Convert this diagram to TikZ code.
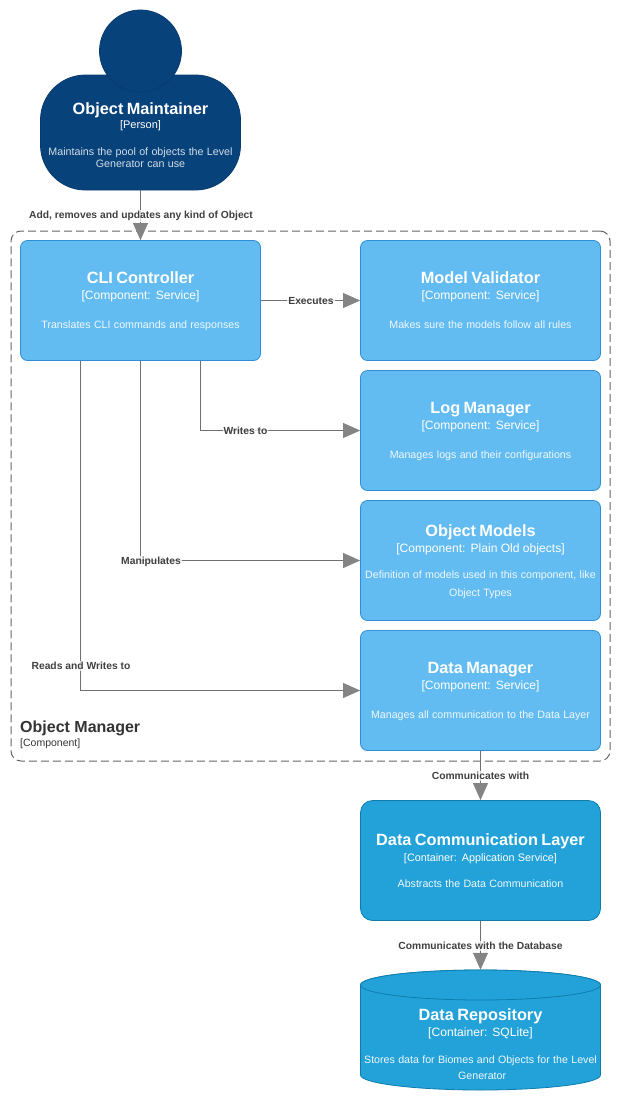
\documentclass[tikz,border=0pt]{standalone}
\usepackage{fontspec}
\setmainfont{Liberation Sans}
\usetikzlibrary{arrows.meta,calc}
\definecolor{personfill}{HTML}{08427B}
\definecolor{persondraw}{HTML}{073B6F}
\definecolor{compfill}{HTML}{63BCF1}
\definecolor{compdraw}{HTML}{2E8FD6}
\definecolor{contfill}{HTML}{23A2D9}
\definecolor{contdraw}{HTML}{0E7DAD}
\definecolor{edgecol}{HTML}{707070}
\definecolor{tipcol}{HTML}{848484}
\definecolor{labelcol}{HTML}{404040}
\definecolor{desccol}{HTML}{F0F8FD}
\newcommand{\lstrut}[2]{\rule[-#2pt]{0pt}{\dimexpr#1pt+#2pt\relax}}
\newcommand{\nl}[1][12.5]{\\\lstrut{#1}{4}}
% optional: baseline gap from subtitle to description minus 4
\newcommand{\boxtext}[4][24]{\offinterlineskip
  {\fontsize{16.3}{17}\selectfont\bfseries\lstrut{15}{4}#2}\\
  {\fontsize{12.1}{15}\selectfont\lstrut{12.5}{4}#3}\\
  {\fontsize{10.65}{15}\selectfont\color{desccol}\lstrut{#1}{4}#4}}
\tikzset{
  x=1pt,y=-1pt,
  compbox/.style={draw=compdraw,fill=compfill,line width=0.8pt,rounded corners=7pt,minimum width=240pt,minimum height=120pt,inner sep=0pt,text=white,align=center,text width=238pt},
  contbox/.style={compbox,draw=contdraw,fill=contfill,rounded corners=12pt},
  rel/.style={draw=edgecol,line width=0.7pt,-{Triangle[width=15pt,length=17pt,color=tipcol]}},
  rellabel/.style={fill=white,fill opacity=0.75,text opacity=1,text=labelcol,inner sep=1pt,font=\bfseries\fontsize{10.3}{12}\selectfont},
}
\begin{document}
\begin{tikzpicture}
\useasboundingbox (0,0) rectangle (621,1101);
% boundary
\node[draw=edgecol!90!black,dash pattern=on 8pt off 4pt,line width=1pt,rounded corners=10pt,minimum width=599pt,minimum height=530pt,inner sep=0pt] (boundary) at (310.5,496) {};
\node[anchor=west,text=black!80,inner sep=0pt,font=\bfseries\fontsize{16}{18}\selectfont] (blabel) at (20,728.5) {Object Manager};
\node[anchor=west,text=black!80,inner sep=0pt,font=\fontsize{10.5}{12}\selectfont] (bsub) at (20,744) {[Component]};
% person
\node[draw=persondraw,fill=personfill,line width=0.8pt,rounded corners=45pt,minimum width=200pt,minimum height=115pt,inner sep=0pt] (body) at (140.5,132.5) {};
\node[draw=persondraw,fill=personfill,line width=0.8pt,circle,minimum size=82pt,inner sep=0pt] (head) at (140.5,51) {};
\node[text=white,align=center,inner sep=0pt,text width=198pt] (ptext) at (140.5,135) {\offinterlineskip
  {\fontsize{16.3}{17}\selectfont\bfseries\lstrut{15}{4}Object Maintainer}\\
  {\fontsize{11}{13}\selectfont\lstrut{10}{4}[Person]}\\
  {\fontsize{10.7}{15}\selectfont\color{white!82!personfill}\lstrut{23}{4}Maintains the pool of objects the Level\\\lstrut{8}{4}Generator can use}};
% components
\node[compbox] (cli) at (140.5,300.5) {\boxtext{CLI Controller}{[Component: Service]}{Translates CLI commands and responses}};
\node[compbox] (validator) at (480.5,300.5) {\boxtext{Model Validator}{[Component: Service]}{Makes sure the models follow all rules}};
\node[compbox] (log) at (480.5,430.5) {\boxtext{Log Manager}{[Component: Service]}{Manages logs and their configurations}};
\node[compbox] (models) at (480.5,560.5) {\boxtext[22]{Object Models}{[Component: Plain Old objects]}{Definition of models used in this component, like\nl Object Types}};
\node[compbox] (data) at (480.5,690.5) {\boxtext{Data Manager}{[Component: Service]}{Manages all communication to the Data Layer}};
\node[contbox] (comm) at (480.5,860.5) {\boxtext[20.5]{Data Communication Layer}{\fontsize{10.8}{13}\selectfont [Container: Application Service]}{Abstracts the Data Communication}};
% database cylinder
\path[draw=contdraw,fill=contfill,line width=0.8pt] (360.5,985) arc[x radius=120,y radius=15,start angle=180,end angle=360] -- (600.5,1075) arc[x radius=120,y radius=15,start angle=0,end angle=180] -- cycle;
\path[draw=contdraw,fill=contfill,line width=0.8pt] (360.5,985) arc[x radius=120,y radius=15,start angle=180,end angle=540];
\node[minimum width=240pt,minimum height=120pt,inner sep=0pt] (repo) at (480.5,1030) {};
\node[text=white,align=center,inner sep=0pt,text width=240pt] (repotext) at (480.5,1044.5) {\boxtext[23]{Data Repository}{[Container: SQLite]}{Stores data for Biomes and Objects for the Level\nl[11] Generator}};
% connectors
\draw[rel] (body.south) -- (cli.north);
\draw[rel] (cli.east) -- (validator.west);
\draw[rel] ([xshift=60pt]cli.south) |- (log.west);
\draw[rel] (cli.south) |- (models.west);
\draw[rel] ([xshift=-60pt]cli.south) |- (data.west);
\draw[rel] (data.south) -- (comm.north);
\draw[rel] (comm.south) -- (repo.north);
% connector labels
\node[rellabel] (l1) at (141,216) {Add, removes and updates any kind of Object};
\node[rellabel] (l2) at (311,301.5) {Executes};
\node[rellabel] (l3) at (245.5,431) {Writes to};
\node[rellabel] (l4) at (151,561.5) {Manipulates};
\node[rellabel] (l5) at (81,666) {Reads and Writes to};
\node[rellabel] (l6) at (480.5,776) {Communicates with};
\node[rellabel] (l7) at (480.5,946) {Communicates with the Database};
\end{tikzpicture}
\end{document}
